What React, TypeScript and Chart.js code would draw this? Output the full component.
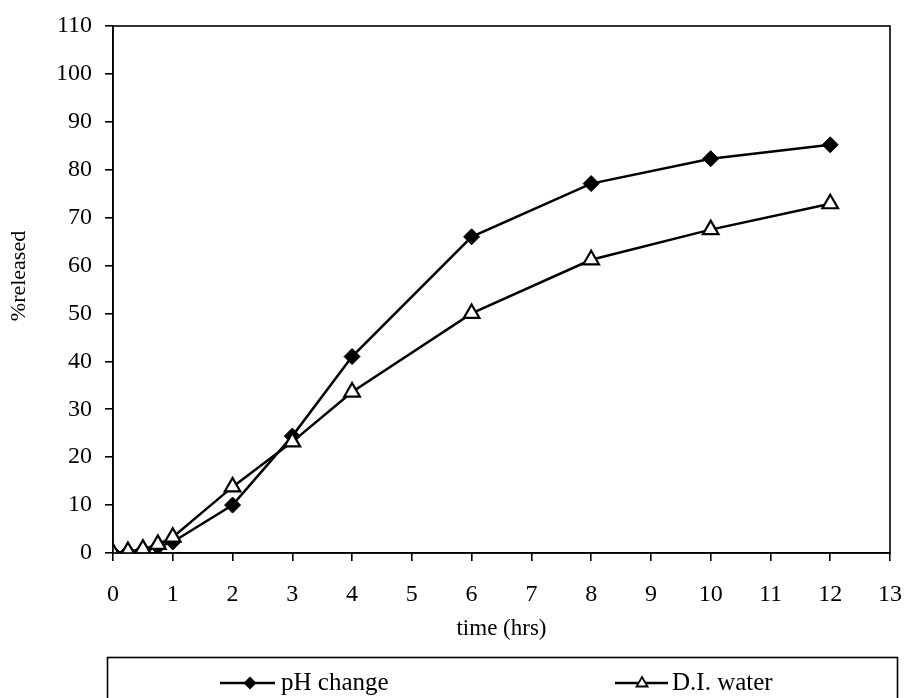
import React, { useEffect, useRef } from "react";
import { Chart, registerables } from "chart.js";

Chart.register(...registerables);

const timeHrs = [0, 0.25, 0.5, 0.75, 1, 2, 3, 4, 6, 8, 10, 12];
const phChange = [0, 0.2, 0.5, 1.3, 2.3, 10, 24.4, 41, 66, 77.1, 82.3, 85.2];
const diWater = [0, 0.3, 0.8, 1.8, 3.3, 13.8, 23.2, 33.6, 50, 61.2, 67.5, 72.9];
const seriesNames = ["pH change", "D.I. water"];
const xTitle = "time (hrs)";
const yTitle = "%released";

const FONT = '"Liberation Serif", "Times New Roman", serif';

export default function App() {
  const ref = useRef<HTMLCanvasElement | null>(null);

  useEffect(() => {
    document.body.style.margin = "0";
    const canvas = ref.current;
    if (!canvas) return;

    const frame = {
      id: "frame",
      afterDatasetsDraw(chart: any) {
        const { ctx, chartArea: a } = chart;
        ctx.save();
        ctx.strokeStyle = "#000";
        ctx.lineWidth = 1.6;
        ctx.strokeRect(a.left, a.top, a.right - a.left, a.bottom - a.top);
        ctx.restore();
      },
    };

    const legendBox = {
      id: "legendBox",
      afterDraw(chart: any) {
        const ctx = chart.ctx;
        ctx.save();
        // y axis title
        ctx.fillStyle = "#000";
        ctx.font = `22px ${FONT}`;
        ctx.textAlign = "center";
        ctx.textBaseline = "middle";
        ctx.translate(19, 276);
        ctx.rotate(-Math.PI / 2);
        ctx.fillText(yTitle, 0, 0);
        ctx.restore();

        ctx.save();
        ctx.strokeStyle = "#000";
        ctx.lineWidth = 1.6;
        ctx.strokeRect(107.5, 657.5, 790, 60);
        const cy = 683;
        // pH change item
        ctx.lineWidth = 2.5;
        ctx.beginPath();
        ctx.moveTo(220, cy);
        ctx.lineTo(275, cy);
        ctx.stroke();
        ctx.fillStyle = "#000";
        ctx.beginPath();
        ctx.moveTo(250 - 6.5, cy);
        ctx.lineTo(250, cy - 6.5);
        ctx.lineTo(250 + 6.5, cy);
        ctx.lineTo(250, cy + 6.5);
        ctx.closePath();
        ctx.fill();
        // D.I. water item
        ctx.beginPath();
        ctx.moveTo(615, cy);
        ctx.lineTo(668, cy);
        ctx.stroke();
        ctx.fillStyle = "#fff";
        ctx.lineWidth = 1.8;
        ctx.beginPath();
        ctx.moveTo(642, cy - 6);
        ctx.lineTo(647.5, cy + 3.5);
        ctx.lineTo(636.5, cy + 3.5);
        ctx.closePath();
        ctx.fill();
        ctx.stroke();
        ctx.fillStyle = "#000";
        ctx.font = `25px ${FONT}`;
        ctx.textBaseline = "middle";
        ctx.textAlign = "left";
        ctx.fillText(seriesNames[0], 281, cy);
        ctx.fillText(seriesNames[1], 672, cy);
        ctx.restore();
      },
    };

    const chart = new Chart(canvas, {
      type: "line",
      data: {
        datasets: [
          {
            label: seriesNames[0],
            data: timeHrs.map((t, i) => ({ x: t, y: phChange[i] })),
            borderColor: "#000",
            backgroundColor: "#000",
            borderWidth: 2.5,
            pointStyle: "rectRot",
            pointRadius: 8,
            pointBorderWidth: 1,
            pointBackgroundColor: "#000",
            pointBorderColor: "#000",
            order: 1,
          },
          {
            label: seriesNames[1],
            data: timeHrs.map((t, i) => ({ x: t, y: diWater[i] })),
            borderColor: "#000",
            backgroundColor: "#fff",
            borderWidth: 2.5,
            pointStyle: "triangle",
            pointRadius: 9,
            pointBorderWidth: 2.2,
            pointBackgroundColor: "#fff",
            pointBorderColor: "#000",
            order: 0,
          },
        ],
      },
      options: {
        responsive: false,
        animation: false,
        layout: { padding: { top: 26, right: 16, bottom: 45, left: 0 } },
        plugins: {
          legend: { display: false },
          tooltip: { enabled: false },
        },
        scales: {
          x: {
            type: "linear",
            min: 0,
            max: 13,
            afterFit: (s: any) => {
              s.height = 100;
              s.paddingLeft = 0;
              s.paddingRight = 0;
            },
            ticks: {
              stepSize: 1,
              color: "#000",
              padding: 19,
              font: { family: FONT, size: 24 },
            },
            grid: {
              drawOnChartArea: false,
              drawTicks: true,
              tickLength: 8,
              color: "#000",
              lineWidth: 1.6,
            },
            border: { display: true, color: "#000", width: 1.6 },
            title: {
              display: true,
              text: xTitle,
              color: "#000",
              font: { family: FONT, size: 23 },
              padding: { top: 0, bottom: 10 },
            },
          },
          y: {
            type: "linear",
            min: 0,
            max: 110,
            afterFit: (s: any) => {
              s.width = 113;
              s.paddingTop = 0;
              s.paddingBottom = 0;
            },
            ticks: {
              stepSize: 10,
              color: "#000",
              padding: 13,
              font: { family: FONT, size: 24 },
            },
            grid: {
              drawOnChartArea: false,
              drawTicks: true,
              tickLength: 8,
              color: "#000",
              lineWidth: 1.6,
            },
            border: { display: true, color: "#000", width: 1.6 },
            title: { display: false },
          },
        },
      },
      plugins: [frame, legendBox],
    });

    return () => chart.destroy();
  }, []);

  return <canvas ref={ref} width={906} height={698} style={{ display: "block" }} />;
}
